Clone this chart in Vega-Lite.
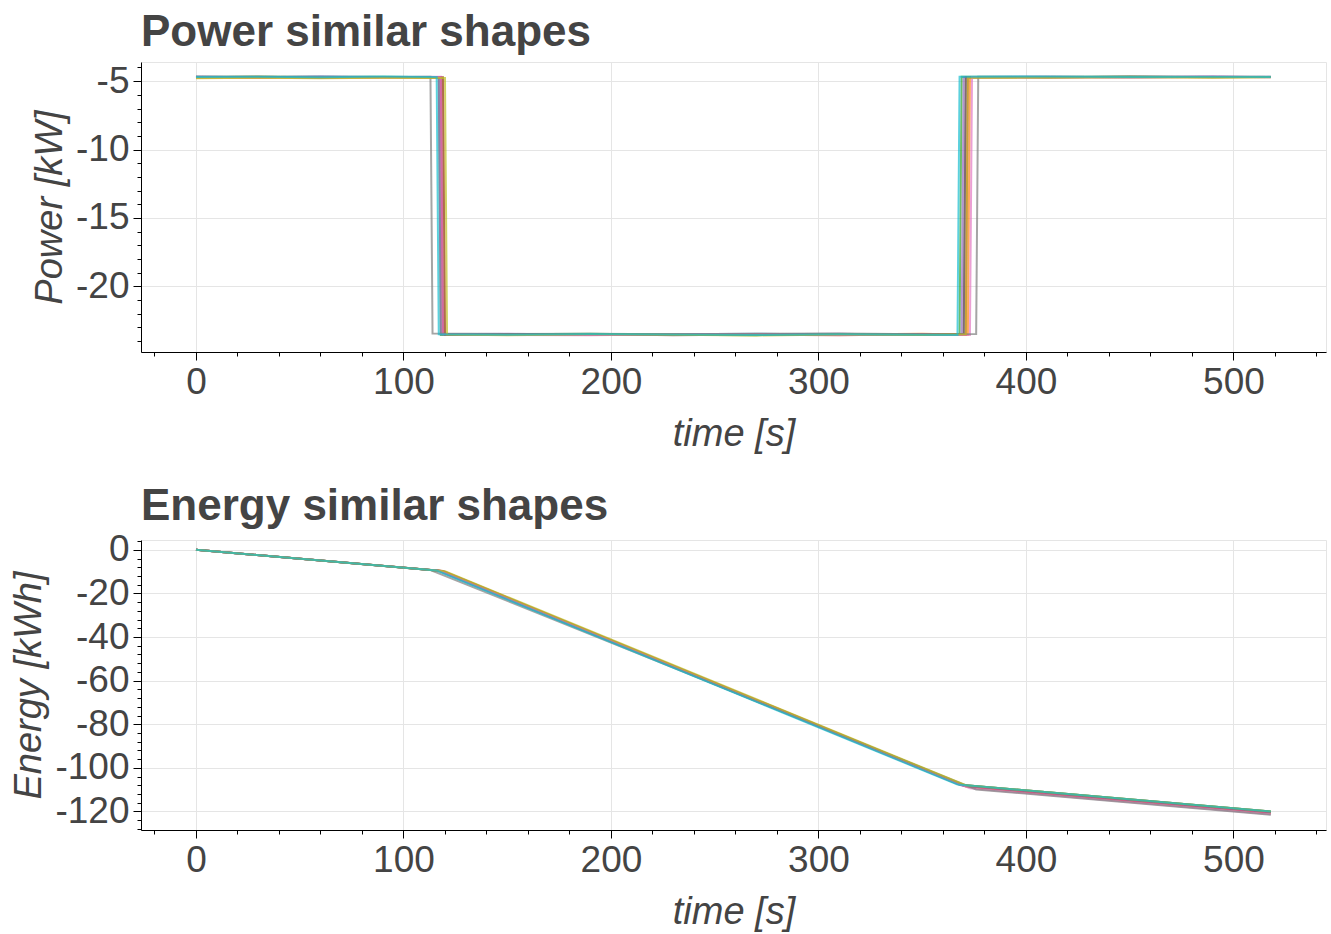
{
  "$schema": "https://vega.github.io/schema/vega-lite/v6.json",
  "padding": {"left": 10, "top": 10, "right": 6, "bottom": 4},
  "bounds": "flush",
  "spacing": 188,
  "config": {
    "font": "Liberation Sans",
    "view": {"stroke": "#e5e5e5", "strokeWidth": 1},
    "axis": {
      "labelFont": "Liberation Sans",
      "labelFontSize": 37,
      "labelColor": "#444444",
      "titleFont": "Liberation Sans",
      "titleFontSize": 38,
      "titleFontStyle": "italic",
      "titleFontWeight": "normal",
      "titleColor": "#444444",
      "domainColor": "#000000",
      "tickColor": "#000000",
      "gridColor": "#e5e5e5",
      "labelOverlap": false,
      "labelFlush": false,
      "labelPadding": 4
    },
    "title": {
      "font": "Liberation Sans",
      "fontSize": 44,
      "fontWeight": "bold",
      "color": "#444444",
      "anchor": "start",
      "frame": "group",
      "offset": -7
    }
  },
  "datasets": {
    "power": [
      {"run": "r01", "t": 0, "p": -4.68}, {"run": "r01", "t": 30, "p": -4.71}, {"run": "r01", "t": 60, "p": -4.66}, {"run": "r01", "t": 90, "p": -4.70}, {"run": "r01", "t": 118, "p": -4.69}, {"run": "r01", "t": 119, "p": -23.52}, {"run": "r01", "t": 150, "p": -23.48}, {"run": "r01", "t": 190, "p": -23.55}, {"run": "r01", "t": 230, "p": -23.50}, {"run": "r01", "t": 270, "p": -23.46}, {"run": "r01", "t": 310, "p": -23.53}, {"run": "r01", "t": 350, "p": -23.51}, {"run": "r01", "t": 370, "p": -23.49}, {"run": "r01", "t": 371, "p": -4.70}, {"run": "r01", "t": 410, "p": -4.67}, {"run": "r01", "t": 450, "p": -4.72}, {"run": "r01", "t": 490, "p": -4.69}, {"run": "r01", "t": 518, "p": -4.68},
      {"run": "r02", "t": 0, "p": -4.74}, {"run": "r02", "t": 30, "p": -4.77}, {"run": "r02", "t": 60, "p": -4.72}, {"run": "r02", "t": 90, "p": -4.75}, {"run": "r02", "t": 119, "p": -4.73}, {"run": "r02", "t": 120, "p": -23.47}, {"run": "r02", "t": 150, "p": -23.53}, {"run": "r02", "t": 190, "p": -23.50}, {"run": "r02", "t": 230, "p": -23.56}, {"run": "r02", "t": 270, "p": -23.49}, {"run": "r02", "t": 310, "p": -23.52}, {"run": "r02", "t": 350, "p": -23.47}, {"run": "r02", "t": 372, "p": -23.54}, {"run": "r02", "t": 373, "p": -4.71}, {"run": "r02", "t": 410, "p": -4.74}, {"run": "r02", "t": 450, "p": -4.69}, {"run": "r02", "t": 490, "p": -4.73}, {"run": "r02", "t": 518, "p": -4.70},
      {"run": "r03", "t": 0, "p": -4.69}, {"run": "r03", "t": 30, "p": -4.66}, {"run": "r03", "t": 60, "p": -4.70}, {"run": "r03", "t": 90, "p": -4.67}, {"run": "r03", "t": 117, "p": -4.71}, {"run": "r03", "t": 118, "p": -23.55}, {"run": "r03", "t": 150, "p": -23.50}, {"run": "r03", "t": 190, "p": -23.47}, {"run": "r03", "t": 230, "p": -23.53}, {"run": "r03", "t": 270, "p": -23.57}, {"run": "r03", "t": 310, "p": -23.49}, {"run": "r03", "t": 350, "p": -23.54}, {"run": "r03", "t": 368, "p": -23.50}, {"run": "r03", "t": 369, "p": -4.68}, {"run": "r03", "t": 410, "p": -4.70}, {"run": "r03", "t": 450, "p": -4.66}, {"run": "r03", "t": 490, "p": -4.71}, {"run": "r03", "t": 518, "p": -4.69},
      {"run": "r04", "t": 0, "p": -4.71}, {"run": "r04", "t": 30, "p": -4.68}, {"run": "r04", "t": 60, "p": -4.73}, {"run": "r04", "t": 90, "p": -4.69}, {"run": "r04", "t": 118, "p": -4.70}, {"run": "r04", "t": 119, "p": -23.49}, {"run": "r04", "t": 150, "p": -23.56}, {"run": "r04", "t": 190, "p": -23.52}, {"run": "r04", "t": 230, "p": -23.48}, {"run": "r04", "t": 270, "p": -23.54}, {"run": "r04", "t": 310, "p": -23.58}, {"run": "r04", "t": 350, "p": -23.50}, {"run": "r04", "t": 371, "p": -23.53}, {"run": "r04", "t": 372, "p": -4.72}, {"run": "r04", "t": 410, "p": -4.68}, {"run": "r04", "t": 450, "p": -4.71}, {"run": "r04", "t": 490, "p": -4.67}, {"run": "r04", "t": 518, "p": -4.70},
      {"run": "r05", "t": 0, "p": -4.67}, {"run": "r05", "t": 30, "p": -4.70}, {"run": "r05", "t": 60, "p": -4.68}, {"run": "r05", "t": 90, "p": -4.72}, {"run": "r05", "t": 117, "p": -4.69}, {"run": "r05", "t": 118, "p": -23.51}, {"run": "r05", "t": 150, "p": -23.46}, {"run": "r05", "t": 190, "p": -23.53}, {"run": "r05", "t": 230, "p": -23.55}, {"run": "r05", "t": 270, "p": -23.50}, {"run": "r05", "t": 310, "p": -23.47}, {"run": "r05", "t": 350, "p": -23.56}, {"run": "r05", "t": 369, "p": -23.52}, {"run": "r05", "t": 370, "p": -4.69}, {"run": "r05", "t": 410, "p": -4.73}, {"run": "r05", "t": 450, "p": -4.70}, {"run": "r05", "t": 490, "p": -4.66}, {"run": "r05", "t": 518, "p": -4.71},
      {"run": "r06", "t": 0, "p": -4.72}, {"run": "r06", "t": 30, "p": -4.69}, {"run": "r06", "t": 60, "p": -4.74}, {"run": "r06", "t": 90, "p": -4.70}, {"run": "r06", "t": 119, "p": -4.71}, {"run": "r06", "t": 120, "p": -23.54}, {"run": "r06", "t": 150, "p": -23.51}, {"run": "r06", "t": 190, "p": -23.49}, {"run": "r06", "t": 230, "p": -23.57}, {"run": "r06", "t": 270, "p": -23.52}, {"run": "r06", "t": 310, "p": -23.50}, {"run": "r06", "t": 350, "p": -23.55}, {"run": "r06", "t": 370, "p": -23.48}, {"run": "r06", "t": 371, "p": -4.70}, {"run": "r06", "t": 410, "p": -4.72}, {"run": "r06", "t": 450, "p": -4.68}, {"run": "r06", "t": 490, "p": -4.70}, {"run": "r06", "t": 518, "p": -4.69},
      {"run": "r07", "t": 0, "p": -4.70}, {"run": "r07", "t": 30, "p": -4.73}, {"run": "r07", "t": 60, "p": -4.69}, {"run": "r07", "t": 90, "p": -4.71}, {"run": "r07", "t": 118, "p": -4.68}, {"run": "r07", "t": 119, "p": -23.50}, {"run": "r07", "t": 150, "p": -23.55}, {"run": "r07", "t": 190, "p": -23.58}, {"run": "r07", "t": 230, "p": -23.51}, {"run": "r07", "t": 270, "p": -23.48}, {"run": "r07", "t": 310, "p": -23.55}, {"run": "r07", "t": 350, "p": -23.52}, {"run": "r07", "t": 373, "p": -23.56}, {"run": "r07", "t": 374, "p": -4.69}, {"run": "r07", "t": 410, "p": -4.71}, {"run": "r07", "t": 450, "p": -4.73}, {"run": "r07", "t": 490, "p": -4.68}, {"run": "r07", "t": 518, "p": -4.72},
      {"run": "r08", "t": 0, "p": -4.66}, {"run": "r08", "t": 30, "p": -4.69}, {"run": "r08", "t": 60, "p": -4.67}, {"run": "r08", "t": 90, "p": -4.70}, {"run": "r08", "t": 113, "p": -4.68}, {"run": "r08", "t": 114, "p": -23.45}, {"run": "r08", "t": 150, "p": -23.49}, {"run": "r08", "t": 190, "p": -23.46}, {"run": "r08", "t": 230, "p": -23.51}, {"run": "r08", "t": 270, "p": -23.47}, {"run": "r08", "t": 310, "p": -23.44}, {"run": "r08", "t": 350, "p": -23.50}, {"run": "r08", "t": 376, "p": -23.48}, {"run": "r08", "t": 377, "p": -4.67}, {"run": "r08", "t": 410, "p": -4.69}, {"run": "r08", "t": 450, "p": -4.66}, {"run": "r08", "t": 490, "p": -4.70}, {"run": "r08", "t": 518, "p": -4.68},
      {"run": "r09", "t": 0, "p": -4.78}, {"run": "r09", "t": 30, "p": -4.75}, {"run": "r09", "t": 60, "p": -4.79}, {"run": "r09", "t": 90, "p": -4.76}, {"run": "r09", "t": 120, "p": -4.77}, {"run": "r09", "t": 121, "p": -23.53}, {"run": "r09", "t": 150, "p": -23.57}, {"run": "r09", "t": 190, "p": -23.51}, {"run": "r09", "t": 230, "p": -23.54}, {"run": "r09", "t": 270, "p": -23.59}, {"run": "r09", "t": 310, "p": -23.52}, {"run": "r09", "t": 350, "p": -23.56}, {"run": "r09", "t": 371, "p": -23.50}, {"run": "r09", "t": 372, "p": -4.73}, {"run": "r09", "t": 410, "p": -4.75}, {"run": "r09", "t": 450, "p": -4.71}, {"run": "r09", "t": 490, "p": -4.74}, {"run": "r09", "t": 518, "p": -4.72},
      {"run": "r10", "t": 0, "p": -4.69}, {"run": "r10", "t": 30, "p": -4.67}, {"run": "r10", "t": 60, "p": -4.71}, {"run": "r10", "t": 90, "p": -4.66}, {"run": "r10", "t": 116, "p": -4.70}, {"run": "r10", "t": 117, "p": -23.51}, {"run": "r10", "t": 150, "p": -23.54}, {"run": "r10", "t": 190, "p": -23.49}, {"run": "r10", "t": 230, "p": -23.52}, {"run": "r10", "t": 270, "p": -23.56}, {"run": "r10", "t": 310, "p": -23.50}, {"run": "r10", "t": 350, "p": -23.53}, {"run": "r10", "t": 367, "p": -23.55}, {"run": "r10", "t": 368, "p": -4.68}, {"run": "r10", "t": 410, "p": -4.66}, {"run": "r10", "t": 450, "p": -4.70}, {"run": "r10", "t": 490, "p": -4.67}, {"run": "r10", "t": 518, "p": -4.69}
    ],
    "energy": [
      {"run": "r01", "t": 0, "e": 0}, {"run": "r01", "t": 118, "e": -9.66}, {"run": "r01", "t": 370, "e": -108.19}, {"run": "r01", "t": 518, "e": -120.31},
      {"run": "r02", "t": 0, "e": 0}, {"run": "r02", "t": 119, "e": -9.75}, {"run": "r02", "t": 372, "e": -108.67}, {"run": "r02", "t": 518, "e": -120.63},
      {"run": "r03", "t": 0, "e": 0}, {"run": "r03", "t": 117, "e": -9.58}, {"run": "r03", "t": 368, "e": -107.72}, {"run": "r03", "t": 518, "e": -120.01},
      {"run": "r04", "t": 0, "e": 0}, {"run": "r04", "t": 118, "e": -9.66}, {"run": "r04", "t": 371, "e": -108.58}, {"run": "r04", "t": 518, "e": -120.62},
      {"run": "r05", "t": 0, "e": 0}, {"run": "r05", "t": 117, "e": -9.58}, {"run": "r05", "t": 369, "e": -108.11}, {"run": "r05", "t": 518, "e": -120.31},
      {"run": "r06", "t": 0, "e": 0}, {"run": "r06", "t": 119, "e": -9.75}, {"run": "r06", "t": 370, "e": -107.89}, {"run": "r06", "t": 518, "e": -120.01},
      {"run": "r07", "t": 0, "e": 0}, {"run": "r07", "t": 118, "e": -9.66}, {"run": "r07", "t": 373, "e": -109.37}, {"run": "r07", "t": 518, "e": -121.25},
      {"run": "r08", "t": 0, "e": 0}, {"run": "r08", "t": 113, "e": -9.25}, {"run": "r08", "t": 376, "e": -109.90}, {"run": "r08", "t": 518, "e": -121.50},
      {"run": "r09", "t": 0, "e": 0}, {"run": "r09", "t": 120, "e": -9.83}, {"run": "r09", "t": 371, "e": -107.97}, {"run": "r09", "t": 518, "e": -120.01},
      {"run": "r10", "t": 0, "e": 0}, {"run": "r10", "t": 116, "e": -9.50}, {"run": "r10", "t": 367, "e": -107.64}, {"run": "r10", "t": 518, "e": -120.01}
    ]
  },
  "vconcat": [
    {
      "title": {"text": "Power similar shapes"},
      "width": 1185,
      "height": 290,
      "data": {"name": "power"},
      "mark": {"type": "line", "strokeWidth": 2, "opacity": 0.7},
      "encoding": {
        "x": {
          "field": "t",
          "type": "quantitative",
          "scale": {"domain": [-26.5, 544.6], "nice": false, "zero": false},
          "axis": {
            "title": "time [s]",
            "values": [-20, 0, 20, 40, 60, 80, 100, 120, 140, 160, 180, 200, 220, 240, 260, 280, 300, 320, 340, 360, 380, 400, 420, 440, 460, 480, 500, 520, 540],
            "labelExpr": "datum.value % 100 === 0 ? '' + datum.value : ''",
            "tickSize": {"condition": {"test": "datum.value % 100 === 0", "value": 8}, "value": 4},
            "gridOpacity": {"condition": {"test": "datum.value % 100 === 0", "value": 1}, "value": 0},
            "titlePadding": 15
          }
        },
        "y": {
          "field": "p",
          "type": "quantitative",
          "scale": {"domain": [-24.8, -3.6], "nice": false, "zero": false},
          "axis": {
            "title": "Power [kW]",
            "values": [-24, -23, -22, -21, -20, -19, -18, -17, -16, -15, -14, -13, -12, -11, -10, -9, -8, -7, -6, -5, -4],
            "labelExpr": "datum.value % 5 === 0 ? '' + datum.value : ''",
            "tickSize": {"condition": {"test": "datum.value % 5 === 0", "value": 8}, "value": 4},
            "gridOpacity": {"condition": {"test": "datum.value % 5 === 0", "value": 1}, "value": 0},
            "titlePadding": 6
          }
        },
        "color": {
          "field": "run",
          "type": "nominal",
          "scale": {"range": ["#1f77b4", "#ff7f0e", "#2ca02c", "#d62728", "#9467bd", "#8c564b", "#e377c2", "#7f7f7f", "#bcbd22", "#17becf"]},
          "legend": null
        }
      }
    },
    {
      "title": {"text": "Energy similar shapes"},
      "width": 1185,
      "height": 290,
      "data": {"name": "energy"},
      "mark": {"type": "line", "strokeWidth": 2, "opacity": 0.7},
      "encoding": {
        "x": {
          "field": "t",
          "type": "quantitative",
          "scale": {"domain": [-26.5, 544.6], "nice": false, "zero": false},
          "axis": {
            "title": "time [s]",
            "values": [-20, 0, 20, 40, 60, 80, 100, 120, 140, 160, 180, 200, 220, 240, 260, 280, 300, 320, 340, 360, 380, 400, 420, 440, 460, 480, 500, 520, 540],
            "labelExpr": "datum.value % 100 === 0 ? '' + datum.value : ''",
            "tickSize": {"condition": {"test": "datum.value % 100 === 0", "value": 8}, "value": 4},
            "gridOpacity": {"condition": {"test": "datum.value % 100 === 0", "value": 1}, "value": 0},
            "titlePadding": 15
          }
        },
        "y": {
          "field": "e",
          "type": "quantitative",
          "scale": {"domain": [-128.5, 4.5], "nice": false, "zero": false},
          "axis": {
            "title": "Energy [kWh]",
            "values": [-128, -124, -120, -116, -112, -108, -104, -100, -96, -92, -88, -84, -80, -76, -72, -68, -64, -60, -56, -52, -48, -44, -40, -36, -32, -28, -24, -20, -16, -12, -8, -4, 0, 4],
            "labelExpr": "datum.value % 20 === 0 ? '' + datum.value : ''",
            "tickSize": {"condition": {"test": "datum.value % 20 === 0", "value": 8}, "value": 4},
            "gridOpacity": {"condition": {"test": "datum.value % 20 === 0", "value": 1}, "value": 0},
            "titlePadding": 6
          }
        },
        "color": {
          "field": "run",
          "type": "nominal",
          "scale": {"range": ["#1f77b4", "#ff7f0e", "#2ca02c", "#d62728", "#9467bd", "#8c564b", "#e377c2", "#7f7f7f", "#bcbd22", "#17becf"]},
          "legend": null
        }
      }
    }
  ]
}
